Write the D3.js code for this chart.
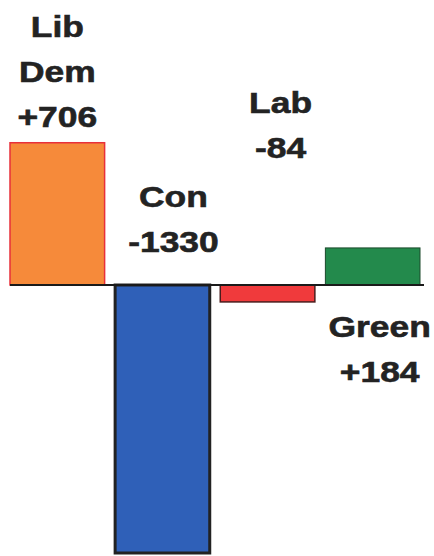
<!DOCTYPE html>
<html>
<head>
<meta charset="utf-8">
<script src="https://cdn.jsdelivr.net/npm/d3@7"></script>
<style>
  body { margin: 0; background: #fff; }
  svg { display: block; }
</style>
</head>
<body>
<svg id="chart" width="434" height="556"></svg>
<script>
// seat changes per party
var parties = ["Lib Dem", "Con", "Lab", "Green"]
var changes = [706, -1330, -84, 184]
var valueLabels = ["+706", "-1330", "-84", "+184"]
var nameLines = [["Lib", "Dem"], ["Con"], ["Lab"], ["Green"]]

var fills = ["#f68a3a", "#2f60b8", "#f03a3c", "#238a4c"]
var strokes = ["#e8303a", "#222222", "#4a1c1c", "#1c4a2c"]
var strokeW = [1.5, 3, 1.5, 1]

// label layout: horizontal shift from bar centre, baseline of first line
var labelDx = [0, 11, 13, 7]
var labelTop = [37, 207, 113, 337]
var lineGap = 45

var svg = d3.select("#chart")
var baseY = 285

var x = d3.scaleBand()
  .domain(parties)
  .range([10, 420])
  .paddingInner(0.1)
  .paddingOuter(0)

var y = d3.scaleLinear()
  .domain([0, -1330])
  .range([baseY, 553])

var data = parties.map(function(p, i){
  return {name: p, value: changes[i], i: i}
})

svg.append("g")
  .selectAll("rect")
  .data(data)
  .enter()
  .append("rect")
  .attr("x", function(d){ return x(d.name) })
  .attr("width", x.bandwidth())
  .attr("y", function(d){ return Math.min(y(d.value), y(0)) })
  .attr("height", function(d){ return Math.abs(y(d.value) - y(0)) })
  .style("fill", function(d){ return fills[d.i] })
  .style("stroke", function(d){ return strokes[d.i] })
  .style("stroke-width", function(d){ return strokeW[d.i] })

svg.append("line")
  .attr("x1", 10)
  .attr("x2", 424)
  .attr("y1", y(0))
  .attr("y2", y(0))
  .style("stroke", "#1a1a1a")
  .style("stroke-width", 2)

var lbl = svg.append("g")
  .style("font-family", "'Liberation Sans', Arial, sans-serif")
  .style("font-weight", "bold")
  .style("font-size", "30px")
  .style("fill", "#232323")
  .style("stroke", "#232323")
  .style("stroke-width", 0.6)
  .style("text-anchor", "middle")

data.forEach(function(d){
  var lines = nameLines[d.i].concat([valueLabels[d.i]])
  var cx = x(d.name) + x.bandwidth() / 2 + labelDx[d.i]
  lines.forEach(function(t, k){
    lbl.append("text")
      .attr("transform", "translate(" + cx + "," + (labelTop[d.i] + k * lineGap) + ") scale(1.18,1)")
      .text(t)
  })
})
</script>
</body>
</html>
